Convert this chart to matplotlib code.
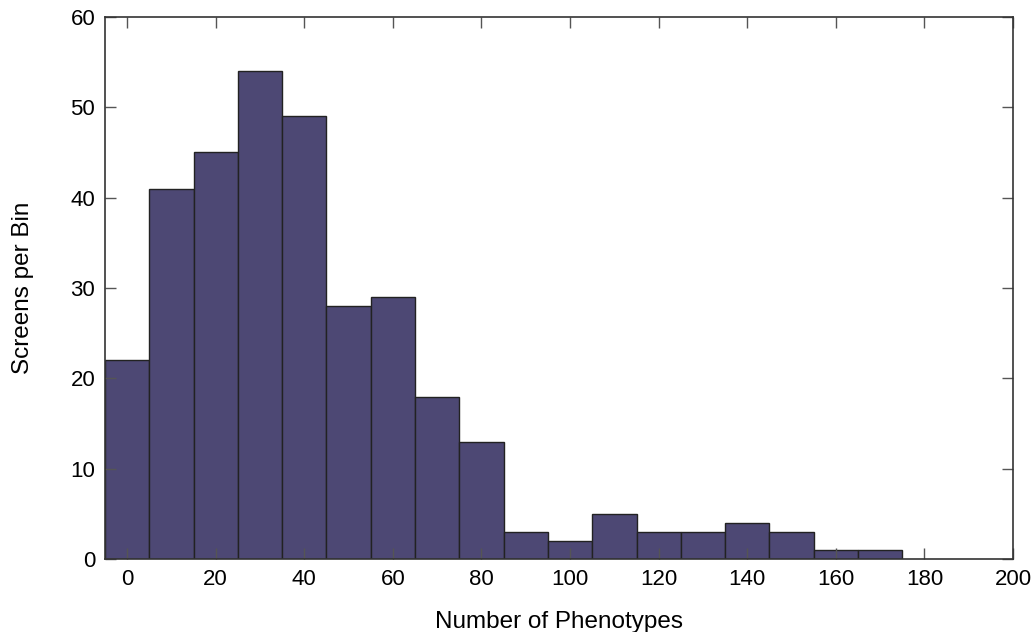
import matplotlib.pyplot as plt

# histogram bins (centres, width 10) and counts
bin_centres = [0, 10, 20, 30, 40, 50, 60, 70, 80, 90, 100, 110, 120, 130, 140, 150, 160, 170]
counts = [22, 41, 45, 54, 49, 28, 29, 18, 13, 3, 2, 5, 3, 3, 4, 3, 1, 1]
xticks = [0, 20, 40, 60, 80, 100, 120, 140, 160, 180, 200]
yticks = [0, 10, 20, 30, 40, 50, 60]

plt.rcParams['font.family'] = ['Liberation Sans', 'DejaVu Sans']

fig = plt.figure(figsize=(10.34, 6.32), dpi=100)
ax = fig.add_axes([105/1034, 1 - 559.3/632, (1013 - 105)/1034, (559.3 - 16.7)/632])

ax.bar(bin_centres, counts, width=10, color='#4d4874', edgecolor='#222222', linewidth=1.0)

ax.set_xlim(-5, 200)
ax.set_ylim(0, 60)
ax.set_xticks(xticks)
ax.set_yticks(yticks)
ax.tick_params(direction='in', length=8, width=1, color='#555555',
               top=True, right=True, labelsize=16, pad=7)
for s in ax.spines.values():
    s.set_color('#333333')
    s.set_linewidth(1.2)

ax.set_xlabel("Number of Phenotypes", fontsize=17.5, labelpad=15)
ax.set_ylabel("Screens per Bin", fontsize=17.5, labelpad=26)

fig.savefig('out.png', dpi=100)
